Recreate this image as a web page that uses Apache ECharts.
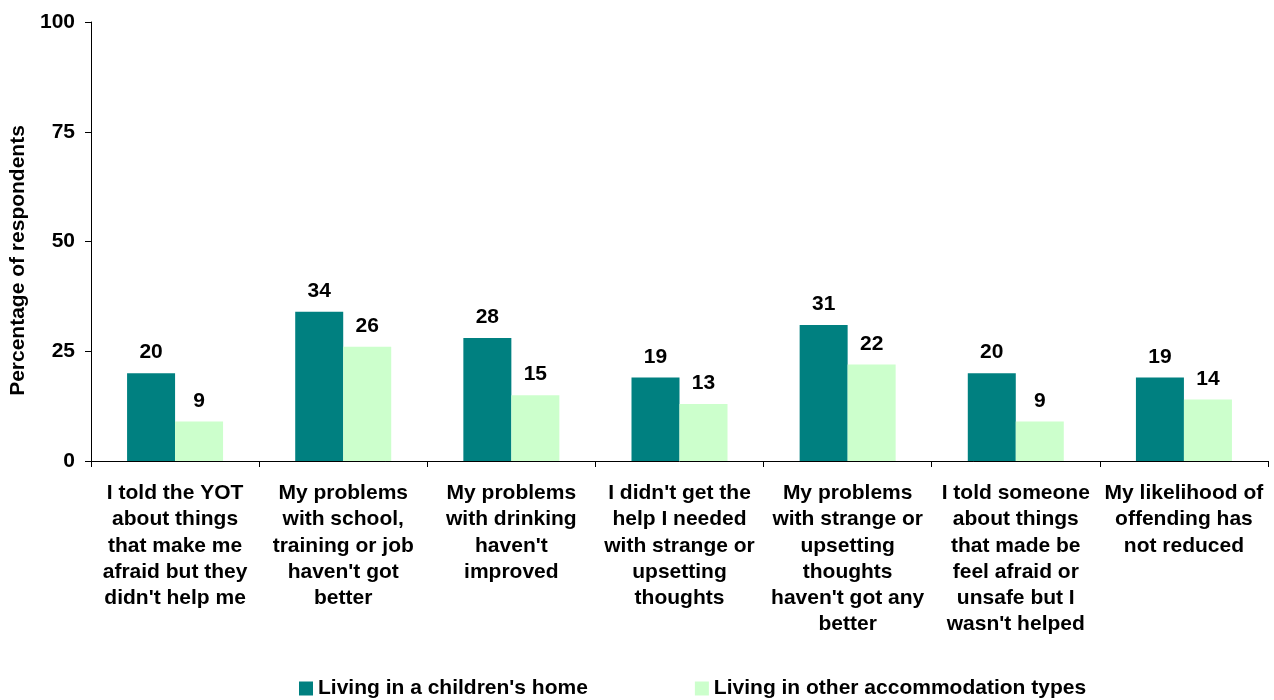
<!DOCTYPE html>
<html>
<head>
<meta charset="utf-8">
<script src="https://cdn.jsdelivr.net/npm/echarts@6/dist/echarts.min.js"></script>
<style>
  html, body { margin: 0; padding: 0; background: #fff; }
  #chart { width: 1274px; height: 700px; }
</style>
</head>
<body>
<div id="chart"></div>
<script>
// Reasons respondents gave, split by accommodation type
var categories = [
  "I told the YOT\nabout things\nthat make me\nafraid but they\ndidn't help me",
  "My problems\nwith school,\ntraining or job\nhaven't got\nbetter",
  "My problems\nwith drinking\nhaven't\nimproved",
  "I didn't get the\nhelp I needed\nwith strange or\nupsetting\nthoughts",
  "My problems\nwith strange or\nupsetting\nthoughts\nhaven't got any\nbetter",
  "I told someone\nabout things\nthat made be\nfeel afraid or\nunsafe but I\nwasn't helped",
  "My likelihood of\noffending has\nnot reduced"
];
var childrensHome = [20, 34, 28, 19, 31, 20, 19];
var otherAccommodation = [9, 26, 15, 13, 22, 9, 14];
var seriesNames = ["Living in a children's home", "Living in other accommodation types"];

var FONT = "Arial, 'Liberation Sans', sans-serif";
var SIZE = 21;
var chart = echarts.init(document.getElementById('chart'));

var labelStyle = {
  show: true,
  position: 'top',
  distance: 10,
  color: '#000',
  fontFamily: FONT,
  fontWeight: 'bold',
  fontSize: SIZE
};

chart.setOption({
  animation: false,
  textStyle: { fontFamily: FONT },
  grid: { left: 90, right: 6, top: 22, bottom: 239, containLabel: false },
  legend: {
    top: 673,
    left: 294,
    itemWidth: 14,
    itemHeight: 14,
    itemGap: 107,
    icon: 'rect',
    textStyle: { fontFamily: FONT, fontWeight: 'bold', fontSize: SIZE, color: '#000' },
    data: seriesNames
  },
  xAxis: {
    type: 'category',
    data: categories,
    axisLine: { lineStyle: { color: '#000', width: 1 } },
    axisTick: { show: true, length: 6, lineStyle: { color: '#000' } },
    axisLabel: {
      interval: 0,
      margin: 19,
      color: '#000',
      fontFamily: FONT,
      fontWeight: 'bold',
      fontSize: SIZE,
      lineHeight: 26.3,
      align: 'center'
    }
  },
  yAxis: {
    type: 'value',
    min: 0,
    max: 100,
    interval: 25,
    name: 'Percentage of respondents',
    nameLocation: 'middle',
    nameGap: 62,
    // right padding nudges the rotated title a little lower along the axis
    nameTextStyle: { color: '#000', fontFamily: FONT, fontWeight: 'bold', fontSize: SIZE, padding: [0, 38, 0, 0] },
    axisLine: { show: true, lineStyle: { color: '#000', width: 1 } },
    axisTick: { show: true, length: 6, lineStyle: { color: '#000' } },
    splitLine: { show: false },
    axisLabel: { margin: 16, color: '#000', fontFamily: FONT, fontWeight: 'bold', fontSize: SIZE }
  },
  series: [
    {
      name: seriesNames[0],
      type: 'bar',
      data: childrensHome,
      barWidth: 48,
      barGap: '0%',
      itemStyle: { color: '#008080' },
      label: labelStyle
    },
    {
      name: seriesNames[1],
      type: 'bar',
      data: otherAccommodation,
      barWidth: 48,
      barGap: '0%',
      itemStyle: { color: '#CCFFCC' },
      label: labelStyle
    }
  ]
});
</script>
</body>
</html>
